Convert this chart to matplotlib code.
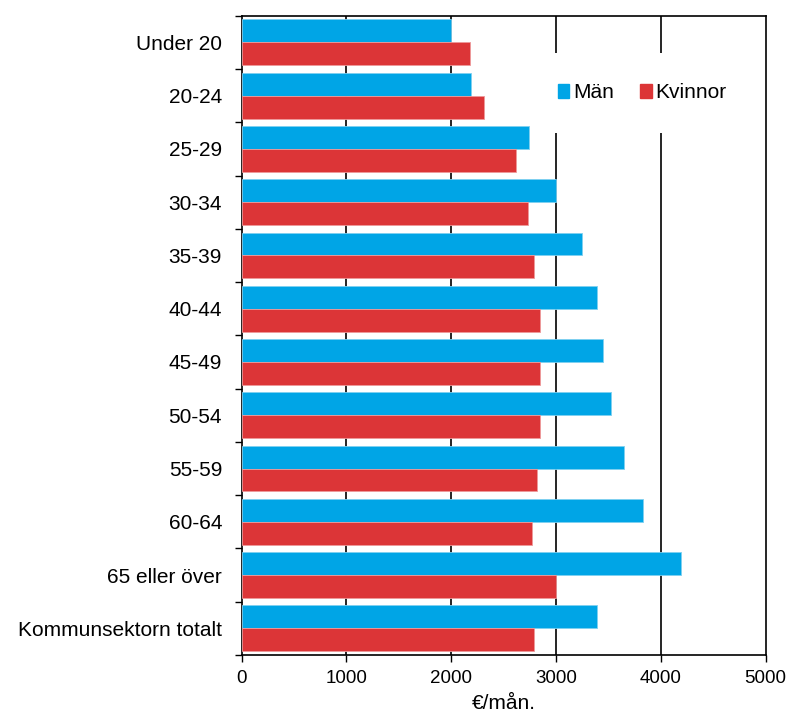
import matplotlib
matplotlib.use("Agg")
import matplotlib.pyplot as plt
from matplotlib.patches import Patch
import numpy as np

plt.rcParams['font.family'] = ['Liberation Sans', 'DejaVu Sans']

categories = ["Under 20", "20-24", "25-29", "30-34", "35-39", "40-44", "45-49",
              "50-54", "55-59", "60-64", "65 eller över", "Kommunsektorn totalt"]
man = [2000, 2190, 2745, 3000, 3245, 3390, 3445, 3520, 3645, 3830, 4195, 3390]
kvinnor = [2175, 2315, 2620, 2730, 2790, 2850, 2850, 2850, 2815, 2775, 3000, 2790]
xticks = [0, 1000, 2000, 3000, 4000, 5000]
series_names = ["Män", "Kvinnor"]

blue = "#00a5e6"
red = "#dc3537"
fs = 15

fig = plt.figure(figsize=(7.87, 7.2), dpi=100)
ax = fig.add_axes([0.3069, 0.0903, 0.666, 0.8879])

y = np.arange(len(categories))
h = 0.43
ax.barh(y - h / 2, man, height=h, color=blue, edgecolor="#7fd0f0", linewidth=0.6, zorder=3)
ax.barh(y + h / 2, kvinnor, height=h, color=red, edgecolor="#ee9a9b", linewidth=0.6, zorder=3)

ax.set_xlim(0, 5000)
ax.set_ylim(len(categories) - 0.5, -0.5)
ax.set_xticks(xticks)
ax.set_xticklabels([str(t) for t in xticks], fontsize=13.5)
ax.set_yticks(y)
ax.set_yticklabels(categories, fontsize=fs)
ax.set_yticks(np.arange(-0.5, len(categories)), minor=True)
ax.tick_params(axis='y', which='major', length=0, pad=14)
ax.tick_params(axis='y', which='minor', length=5, width=1, direction='out')
ax.tick_params(axis='x', length=5, width=1, direction='out', pad=6)

for t in xticks[1:-1]:
    ax.axvline(t, color='black', linewidth=1.2, zorder=1)

for s in ax.spines.values():
    s.set_linewidth(1.2)

ax.set_xlabel("€/mån.", fontsize=fs, labelpad=5)

handles = [Patch(facecolor=blue, edgecolor=blue), Patch(facecolor=red, edgecolor=red)]
leg = ax.legend(handles, series_names, loc='center', bbox_to_anchor=(0.816, 0.871),
                bbox_transform=fig.transFigure,
                ncol=2, fontsize=fs, frameon=True, framealpha=1, facecolor='white',
                edgecolor='none', fancybox=False, borderpad=1.45, handlelength=0.55,
                handleheight=0.65, handletextpad=0.2, columnspacing=1.25)
leg.set_zorder(2)

fig.savefig("out.png", dpi=100)
